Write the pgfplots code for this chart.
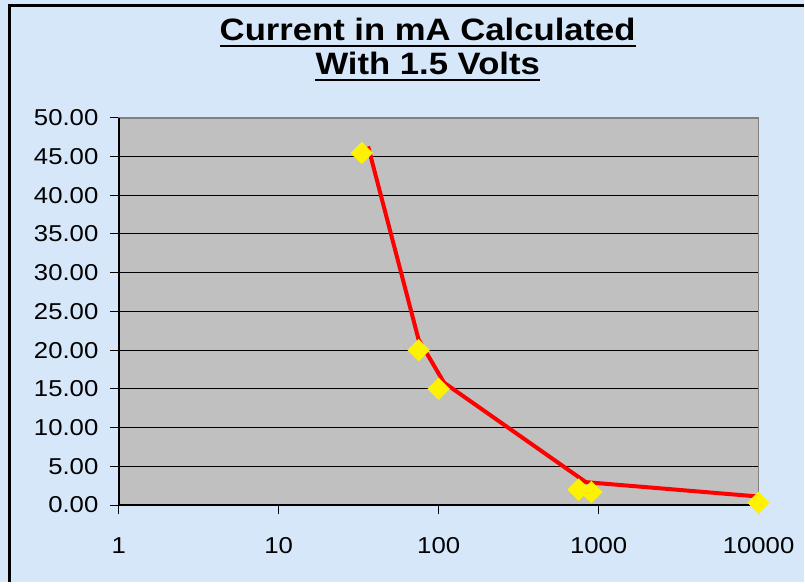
\documentclass[border=0pt]{standalone}
\usepackage{fontspec}
\setmainfont{Liberation Sans}[FakeStretch=1.12]
\usepackage{pgfplots}
\pgfplotsset{compat=1.18}
\definecolor{bgblue}{RGB}{215,231,250}
\definecolor{plotgray}{RGB}{192,192,192}
\definecolor{bordgray}{RGB}{128,128,128}
\begin{document}
\begin{tikzpicture}[x=1pt,y=1pt]
\fill[bgblue] (0,0) rectangle (805,583);
\draw[line width=3pt] (10,0) -- (10,577.5) -- (805,577.5);
\node[inner sep=0pt, anchor=base, font=\fontsize{31}{35}\selectfont\bfseries] (t1) at (428.5,542) {Current in mA Calculated};
\node[inner sep=0pt, anchor=base, font=\fontsize{31}{35}\selectfont\bfseries] (t2) at (428.5,508) {With 1.5 Volts};
\draw[line width=2pt] ([yshift=-5pt]t1.base west) -- ([yshift=-5pt]t1.base east);
\draw[line width=2pt] ([yshift=-5pt]t2.base west) -- ([yshift=-5pt]t2.base east);
\begin{axis}[
  at={(119pt,77pt)}, anchor=south west,
  scale only axis, width=641pt, height=388pt,
  xmode=log, xmin=1, xmax=10000, ymin=0, ymax=50,
  xtick={1,10,100,1000,10000},
  xticklabels={1,10,100,1000,10000},
  xminorticks=false,
  ytick={0,5,10,15,20,25,30,35,40,45,50},
  yticklabel={\pgfmathprintnumber[fixed,fixed zerofill,precision=2]{\tick}},
  /pgf/number format/assume math mode=true,
  ticklabel style={font=\fontsize{23}{27}\selectfont},
  yticklabel style={xshift=-8pt},
  xticklabel style={yshift=-20pt},
  tick align=outside,
  major tick length=9pt,
  tick style={black, line width=1pt},
  xtick pos=bottom, ytick pos=left,
  ymajorgrids,
  grid style={black, line width=1pt},
  axis background/.style={fill=plotgray},
  axis line style={bordgray, line width=1.5pt},
  clip=false,
]
\draw[black, line width=2pt] (rel axis cs:0,1) -- (rel axis cs:0,0) -- (rel axis cs:1,0);
\addplot[only marks, mark=square*, mark size=7.7pt, mark options={rotate=45, fill=yellow, draw=yellow}]
  coordinates {(33,45.45) (75,20) (100,15) (750,2.0) (900,1.67) (10000,0.3)};
\addplot[red, line width=4pt, no marks, line join=round]
  coordinates {(36.2,46.3) (74.8,21.4) (108,15.8) (832,2.96) (9750,1.12)};
\end{axis}
\end{tikzpicture}
\end{document}
